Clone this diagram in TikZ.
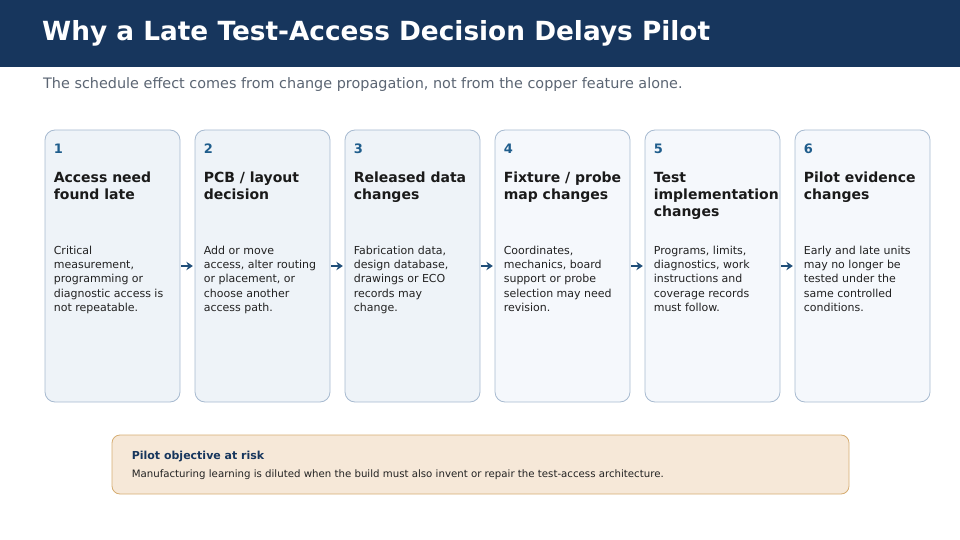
\documentclass[tikz,border=0pt]{standalone}
\usepackage{fontspec}
\setmainfont{DejaVu Sans}
\usetikzlibrary{arrows.meta}
\definecolor{headBlue}{HTML}{17365D}
\definecolor{subGray}{HTML}{5B6573}
\definecolor{numBlue}{HTML}{1F5D8C}
\definecolor{headText}{HTML}{1A1A1A}
\definecolor{bodyText}{HTML}{222222}
\definecolor{boxLine}{HTML}{A7BAD0}
\definecolor{stepFillA}{HTML}{EEF3F8}
\definecolor{stepFillB}{HTML}{F5F8FC}
\definecolor{arrowBlue}{HTML}{1F4E79}
\definecolor{riskFill}{HTML}{F6E8D8}
\definecolor{riskLine}{HTML}{D6AD72}
\begin{document}
\begin{tikzpicture}
[x=1pt,y=-1pt,
  boxDecorate/.style={draw=boxLine,line width=0.8pt,rounded corners=10pt,
    minimum width=135pt,minimum height=272pt,inner sep=0pt},
  numDecorate/.style={anchor=north west,inner sep=0pt,text=numBlue,
    font=\bfseries\fontsize{13}{15}\selectfont},
  headDecorate/.style={anchor=north west,inner sep=0pt,align=left,text=headText,
    font=\bfseries\fontsize{14}{17}\selectfont},
  bodyDecorate/.style={anchor=north west,inner sep=0pt,align=left,text=bodyText,
    font=\fontsize{11}{14.4}\selectfont},
  lineDecorate/.style={-{Stealth[length=6.5pt,width=8.5pt]},line width=2.6pt,
    draw=arrowBlue,shorten >=1.8pt,shorten <=0.8pt}]
\useasboundingbox (0,0) rectangle (960,540);
%% header
\fill[headBlue] (0,0) rectangle (960,67);
\node (title) [anchor=west,inner sep=0pt,text=white,
  font=\bfseries\fontsize{26.35}{30}\selectfont] at (42,33.5)
  {Why a Late Test-Access Decision Delays Pilot};
\node (subtitle) [anchor=west,inner sep=0pt,text=subGray,
  font=\fontsize{14.4}{17}\selectfont] at (43,84.5)
  {The schedule effect comes from change propagation, not from the copper feature alone.};
%% step boxes
\foreach \nodename/\x/\fillcolor/\headtext/\bodytext in {
  1/112.5/stepFillA/{Access need\\found late}/{Critical\\measurement,\\programming or\\diagnostic access is\\not repeatable.},
  2/262.5/stepFillA/{PCB / layout\\decision}/{Add or move\\access, alter routing\\or placement, or\\choose another\\access path.},
  3/412.5/stepFillA/{Released data\\changes}/{Fabrication data,\\design database,\\drawings or ECO\\records may\\change.},
  4/562.5/stepFillB/{Fixture / probe\\map changes}/{Coordinates,\\mechanics, board\\support or probe\\selection may need\\revision.},
  5/712.5/stepFillB/{Test\\implementation\\changes}/{Programs, limits,\\diagnostics, work\\instructions and\\coverage records\\must follow.},
  6/862.5/stepFillB/{Pilot evidence\\changes}/{Early and late units\\may no longer be\\tested under the\\same controlled\\conditions.}}
{
  \node (\nodename) at (\x,266) [boxDecorate,fill=\fillcolor] {};
  \node (num\nodename) at ([shift={(9,14)}]\nodename.north west) [numDecorate] {\nodename};
  \node (head\nodename) at ([shift={(9,42)}]\nodename.north west) [headDecorate] {\headtext};
  \node (body\nodename) at ([shift={(9,116)}]\nodename.north west) [bodyDecorate] {\bodytext};
}
%% arrows between steps
\foreach \startnode/\endnode in {1/2, 2/3, 3/4, 4/5, 5/6}
{
  \draw[lineDecorate] (\startnode) -- (\endnode);
}
%% risk note
\node (risk) at (480.5,464.5) [draw=riskLine,line width=0.8pt,fill=riskFill,
  rounded corners=8pt,minimum width=737pt,minimum height=59pt] {};
\node (riskTitle) at ([shift={(20,25)}]risk.north west) [anchor=base west,
  inner sep=0pt,text=headBlue,font=\bfseries\fontsize{11}{13}\selectfont]
  {Pilot objective at risk};
\node (riskText) at ([shift={(20,42.5)}]risk.north west) [anchor=base west,
  inner sep=0pt,text=bodyText,font=\fontsize{10.2}{12}\selectfont]
  {Manufacturing learning is diluted when the build must also invent or repair the test-access architecture.};
\end{tikzpicture}
\end{document}
